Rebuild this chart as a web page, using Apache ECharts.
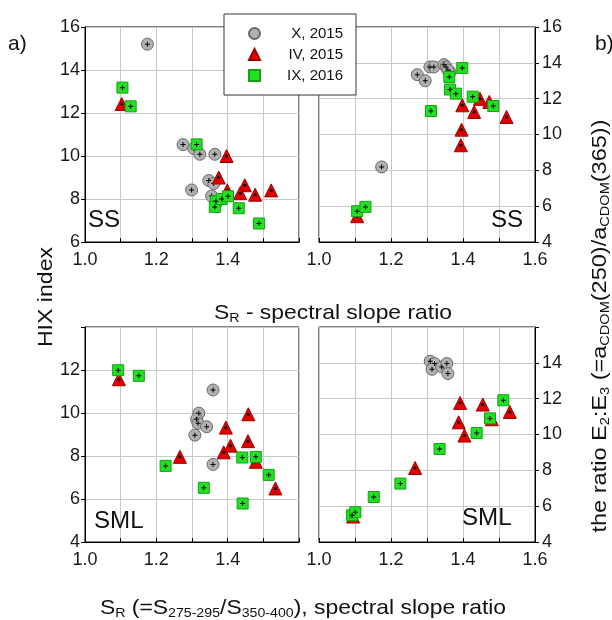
<!DOCTYPE html>
<html>
<head>
<meta charset="utf-8">
<script src="https://cdn.jsdelivr.net/npm/echarts@6/dist/echarts.min.js"></script>
<style>
  html, body { margin: 0; padding: 0; background: #ffffff; }
  #chart { width: 612px; height: 620px; }
</style>
</head>
<body>
<div id="chart"></div>
<script>
// Campaign names (legend)
const campaigns = ['X, 2015', 'IV, 2015', 'IX, 2016'];

// Spectral slope ratio axis ticks
const srTicks = [1.0, 1.1, 1.2, 1.3, 1.4, 1.5, 1.6];

// a) top: HIX index vs S_R, surface samples (SS)
const hixSS_X2015  = [[1.175,15.2],[1.275,10.53],[1.305,10.35],[1.322,10.08],[1.364,10.08],[1.347,8.86],[1.361,8.72],[1.299,8.42],[1.355,8.14]];
const hixSS_IV2015 = [[1.103,12.42],[1.397,10.0],[1.375,9.0],[1.399,8.4],[1.448,8.64],[1.435,8.27],[1.477,8.2],[1.522,8.4]];
const hixSS_IX2016 = [[1.105,13.18],[1.128,12.31],[1.313,10.54],[1.367,7.89],[1.364,7.63],[1.383,8.0],[1.401,8.13],[1.431,7.57],[1.488,6.86]];

// b) top: E2:E3 vs S_R, surface samples (SS)
const e23SS_X2015  = [[1.174,8.19],[1.273,13.34],[1.295,13.0],[1.308,13.77],[1.319,13.77],[1.347,13.9],[1.353,13.77],[1.364,13.49],[1.358,13.6]];
const e23SS_IV2015 = [[1.106,5.44],[1.398,11.63],[1.396,10.27],[1.394,9.4],[1.431,11.26],[1.447,11.99],[1.473,11.82],[1.521,10.98]];
const e23SS_IX2016 = [[1.106,5.72],[1.129,5.96],[1.311,11.31],[1.362,13.21],[1.364,12.51],[1.380,12.28],[1.398,13.71],[1.427,12.11],[1.484,11.59]];

// a) bottom: HIX index vs S_R, surface microlayer (SML)
const hixSML_X2015  = [[1.359,11.07],[1.319,9.99],[1.313,9.71],[1.317,9.52],[1.341,9.36],[1.308,8.97],[1.359,7.61]];
const hixSML_IV2015 = [[1.095,11.57],[1.266,7.96],[1.395,9.32],[1.408,8.48],[1.389,8.17],[1.458,9.94],[1.457,8.69],[1.479,7.73],[1.534,6.49]];
const hixSML_IX2016 = [[1.093,11.99],[1.151,11.73],[1.226,7.54],[1.333,6.52],[1.441,7.93],[1.479,7.96],[1.442,5.79],[1.515,7.12]];

// b) bottom: E2:E3 vs S_R, surface microlayer (SML)
const e23SML_X2015  = [[1.309,14.09],[1.321,13.96],[1.314,13.64],[1.341,13.77],[1.355,13.96],[1.358,13.4]];
const e23SML_IV2015 = [[1.095,5.42],[1.267,8.13],[1.392,11.76],[1.388,10.68],[1.404,9.94],[1.455,11.67],[1.48,10.85],[1.530,11.26]];
const e23SML_IX2016 = [[1.092,5.49],[1.101,5.66],[1.152,6.51],[1.226,7.26],[1.335,9.19],[1.438,10.08],[1.475,10.9],[1.512,11.91]];

const FONT = '"Liberation Sans", Arial, Helvetica, sans-serif';
const GRID_C = '#c8c8c8';

// marker looks per campaign
const markStyle = [
  { symbol: 'circle',   size: 12, color: '#b0b0b0', border: '#6a6a6a', centre: 'plus', z: 2 },
  { symbol: 'triangle', size: 13, color: '#e00000', border: '#a00000', centre: 'dot',  z: 4 },
  { symbol: 'rect',     size: 11, color: '#22e022', border: '#15a015', centre: 'plus', z: 6 }
];
const PLUS = 'path://M2,0H3V2H5V3H3V5H2V3H0V2H2Z';

function panelSeries(idx, sets) {
  const out = [];
  sets.forEach((data, k) => {
    const m = markStyle[k];
    out.push({
      name: campaigns[k], type: 'scatter', xAxisIndex: idx, yAxisIndex: idx,
      data: data, symbol: m.symbol, symbolSize: m.size, z: m.z,
      itemStyle: { color: m.color, borderColor: m.border, borderWidth: 1, opacity: 1 },
      emphasis: { disabled: true }
    });
    out.push({
      name: campaigns[k] + ' centre', type: 'scatter', xAxisIndex: idx, yAxisIndex: idx,
      data: data, symbol: m.centre === 'plus' ? PLUS : 'circle',
      symbolSize: m.centre === 'plus' ? 5 : 3, z: m.z + 1, silent: true,
      itemStyle: { color: '#000000', opacity: 1 },
      emphasis: { disabled: true }
    });
  });
  return out;
}

function xAxisFor(idx, showLast) {
  return {
    type: 'value', gridIndex: idx, min: srTicks[0], max: srTicks[srTicks.length - 1], interval: 0.1,
    axisLine: { show: true, onZero: false, lineStyle: { color: '#000', width: 1 } },
    axisTick: { show: true, inside: true, length: 4, lineStyle: { color: '#000' } },
    splitLine: { show: true, lineStyle: { color: GRID_C, width: 1 } },
    axisLabel: {
      fontFamily: FONT, fontSize: 18, color: '#1a1a1a', margin: 9,
      formatter: v => {
        const k = Math.round(v * 10);
        if (k % 2 !== 0) return '';
        if (!showLast && k === 16) return '';
        return (k / 10).toFixed(1);
      }
    }
  };
}

function yAxisFor(idx, min, max, right, hideTop) {
  return {
    type: 'value', gridIndex: idx, min: min, max: max, interval: 2,
    position: right ? 'right' : 'left',
    axisLine: { show: true, onZero: false, lineStyle: { color: '#000', width: 1 } },
    axisTick: { show: true, length: 4, lineStyle: { color: '#000' } },
    splitLine: { show: true, lineStyle: { color: GRID_C, width: 1 } },
    axisLabel: {
      fontFamily: FONT, fontSize: 18, color: '#1a1a1a', margin: right ? 7 : 5,
      formatter: v => (hideTop && v === max) ? '' : String(v)
    }
  };
}

const gridBox = { show: true, borderColor: '#000', borderWidth: 1, backgroundColor: '#fff', containLabel: false };

function txt(x, y, text, size, extra) {
  const e = extra || {};
  return {
    type: 'text', x: x, y: y, z: 100, rotation: e.rotation || 0, scaleX: e.scaleX || 1,
    style: Object.assign({ text: text, fill: '#111', fontFamily: FONT, fontSize: size,
      align: 'left', verticalAlign: 'middle' }, e.style || {})
  };
}

const richTitle = {
  m: { fontFamily: FONT, fontSize: 21, fill: '#111', color: '#111', lineHeight: 30 },
  s: { fontFamily: FONT, fontSize: 13, fill: '#111', color: '#111', lineHeight: 30, padding: [10, 0, 0, 0] }
};

const option = {
  backgroundColor: '#ffffff',
  animation: false,
  grid: [
    Object.assign({ left: 85, top: 27, width: 214, height: 215 }, gridBox),
    Object.assign({ left: 319, top: 27, width: 216, height: 215 }, gridBox),
    Object.assign({ left: 85, top: 327, width: 214, height: 215 }, gridBox),
    Object.assign({ left: 319, top: 327, width: 216, height: 215 }, gridBox)
  ],
  xAxis: [xAxisFor(0, false), xAxisFor(1, true), xAxisFor(2, false), xAxisFor(3, true)],
  yAxis: [
    yAxisFor(0, 6, 16, false, false),
    yAxisFor(1, 4, 16, true, false),
    yAxisFor(2, 4, 14, false, true),
    yAxisFor(3, 4, 16, true, true)
  ],
  legend: {
    data: [
      { name: campaigns[0], icon: 'circle' },
      { name: campaigns[1], icon: 'triangle' },
      { name: campaigns[2], icon: 'rect' }
    ],
    orient: 'vertical', left: 224, top: 14, z: 50,
    itemWidth: 11, itemHeight: 11, itemGap: 6,
    padding: [12, 13, 12, 24],
    backgroundColor: '#ffffff', borderColor: '#333', borderWidth: 1,
    formatter: '{r|{name}}',
    textStyle: {
      fontFamily: FONT, fontSize: 15, color: '#111',
      rich: { r: { fontFamily: FONT, fontSize: 15, color: '#111', width: 78, align: 'right' } }
    },
    selectedMode: false
  },
  series: [].concat(
    panelSeries(0, [hixSS_X2015, hixSS_IV2015, hixSS_IX2016]),
    panelSeries(1, [e23SS_X2015, e23SS_IV2015, e23SS_IX2016]),
    panelSeries(2, [hixSML_X2015, hixSML_IV2015, hixSML_IX2016]),
    panelSeries(3, [e23SML_X2015, e23SML_IV2015, e23SML_IX2016])
  ),
  graphic: [
    txt(8, 44, 'a)', 21),
    txt(595, 44, 'b)', 21),
    txt(88, 221, 'SS', 23, { scaleX: 1.05 }),
    txt(491, 221, 'SS', 23, { scaleX: 1.05 }),
    txt(94, 522, 'SML', 23, { scaleX: 1.05 }),
    txt(462, 519, 'SML', 23, { scaleX: 1.05 }),
    txt(46, 297, 'HIX index', 21, { rotation: Math.PI / 2, scaleX: 1.1, style: { align: 'center' } }),
    {
      type: 'text', x: 333, y: 313, z: 100, scaleX: 1.09,
      style: { text: '{m|S}{s|R}{m| - spectral slope ratio}', rich: richTitle, align: 'center', verticalAlign: 'middle' }
    },
    {
      type: 'text', x: 303, y: 608, z: 100, scaleX: 1.09,
      style: { text: '{m|S}{s|R}{m| (=S}{s|275-295}{m|/S}{s|350-400}{m|), spectral slope ratio}', rich: richTitle, align: 'center', verticalAlign: 'middle' }
    },
    {
      type: 'text', x: 600, y: 326, z: 100, rotation: Math.PI / 2, scaleX: 1.12,
      style: { text: '{m|the ratio E}{s|2}{m|:E}{s|3}{m| (=a}{s|CDOM}{m|(250)/a}{s|CDOM}{m|(365))}', rich: richTitle, align: 'center', verticalAlign: 'middle' }
    }
  ]
};

const chart = echarts.init(document.getElementById('chart'), null, { renderer: 'canvas' });
chart.setOption(option);
</script>
</body>
</html>
